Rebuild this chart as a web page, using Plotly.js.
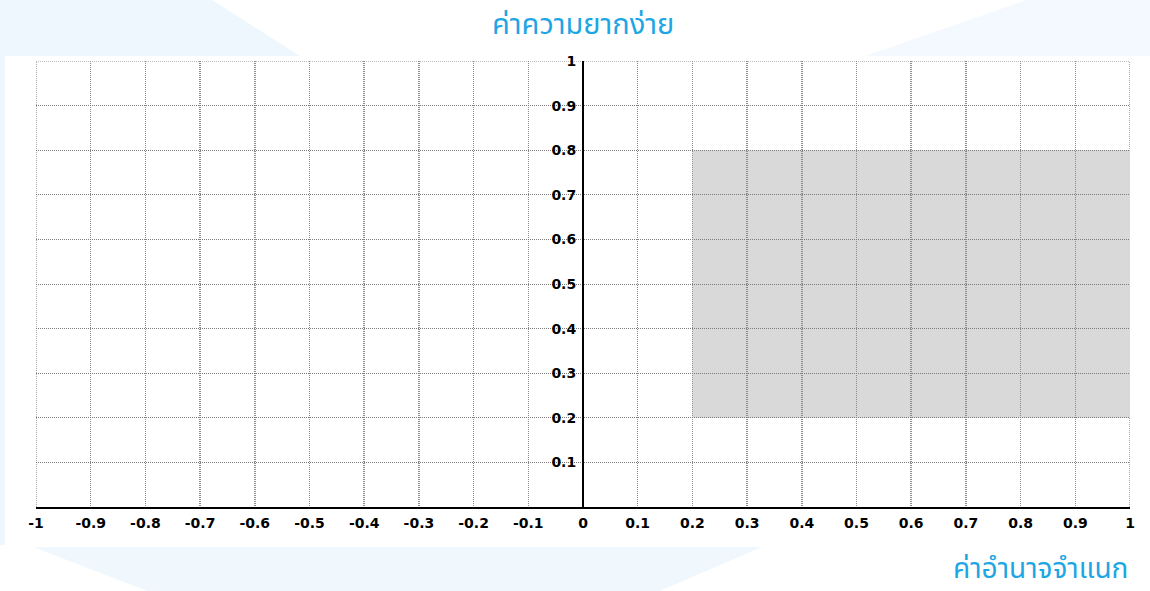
<!DOCTYPE html>
<html>
<head>
<meta charset="utf-8">
<script src="https://cdn.plot.ly/plotly-3.0.1.min.js"></script>
<style>html,body{margin:0;padding:0;background:#fff;}#chart{width:1150px;height:591px;}</style>
</head>
<body>
<div id="chart"></div>
<script>
// Axis ticks
const xTicks = [-1,-0.9,-0.8,-0.7,-0.6,-0.5,-0.4,-0.3,-0.2,-0.1,0,0.1,0.2,0.3,0.4,0.5,0.6,0.7,0.8,0.9,1];
const xTickLabels = ["-1","-0.9","-0.8","-0.7","-0.6","-0.5","-0.4","-0.3","-0.2","-0.1","0","0.1","0.2","0.3","0.4","0.5","0.6","0.7","0.8","0.9","1"];
const yTicks = [0.1,0.2,0.3,0.4,0.5,0.6,0.7,0.8,0.9,1];
const yTickLabels = ["0.1","0.2","0.3","0.4","0.5","0.6","0.7","0.8","0.9","1"];
// Shaded acceptable region (discrimination x, difficulty y)
const shadeX = [0.2, 1];
const shadeY = [0.2, 0.8];
const titleTop = "ค่าความยากง่าย";
const titleBottom = "ค่าอำนาจจำแนก";

const thaiFont = "'Noto Sans Thai', 'Noto Sans', sans-serif";
const tickFont = {family: "'DejaVu Sans', Verdana, sans-serif", size: 14, color: '#000', weight: 'bold'};
const gridV = {color: '#8c8c8c', width: 1.5, dash: '1px,1px'};
const gridH = {color: '#7a7a7a', width: 1, dash: '1px,1px'};

const layout = {
  width: 1150, height: 591,
  margin: {l: 36, r: 20, t: 61, b: 84},
  paper_bgcolor: '#ffffff',
  plot_bgcolor: 'rgba(0,0,0,0)',
  showlegend: false,
  xaxis: {
    range: [-1, 1], tickvals: xTicks, ticktext: xTickLabels,
    showgrid: true, gridcolor: gridV.color, griddash: gridV.dash, gridwidth: gridV.width,
    zeroline: false, showline: true, linecolor: '#000', linewidth: 2,
    ticks: '', tickfont: tickFont, ticklabelstandoff: 2, fixedrange: true
  },
  yaxis: {
    range: [0, 1], tickvals: yTicks, ticktext: yTickLabels,
    showgrid: true, gridcolor: gridH.color, griddash: gridH.dash, gridwidth: gridH.width,
    zeroline: false, showline: true, linecolor: '#000', linewidth: 2,
    anchor: 'free', position: 0.5, ticks: '', tickfont: tickFont,
    ticklabelstandoff: 3, fixedrange: true
  },
  shapes: [],
  annotations: [
    {text: titleTop, xref: 'paper', yref: 'paper', x: 0.5, y: 1, xshift: 0, yshift: 36,
     xanchor: 'center', yanchor: 'middle', showarrow: false,
     font: {family: thaiFont, size: 29, color: '#1ea6e4'}},
    {text: titleBottom, xref: 'paper', yref: 'paper', x: 1, y: 0, xshift: 0, yshift: -62,
     xanchor: 'right', yanchor: 'middle', showarrow: false,
     font: {family: thaiFont, size: 28, color: '#1ea6e4'}}
  ]
};

// Decorative light-blue background panels (page pixel positions -> paper fractions)
function pp(px, py) {
  const pw = 1150 - 36 - 20, ph = 591 - 61 - 84;
  return [((px - 36) / pw).toFixed(4), ((591 - 84 - py) / ph).toFixed(4)];
}
function pathFrom(pts) {
  return 'M ' + pts.map(p => pp(p[0], p[1]).join(' ')).join(' L ') + ' Z';
}
const bg = '#eef7fd';
layout.shapes.push({type: 'path', xref: 'paper', yref: 'paper', layer: 'below',
  path: pathFrom([[0,0],[212,0],[300,56],[5,56],[5,545],[0,545]]),
  fillcolor: bg, line: {width: 0}});
layout.shapes.push({type: 'path', xref: 'paper', yref: 'paper', layer: 'below',
  path: pathFrom([[865,56],[1027,0],[1150,0],[1150,56]]),
  fillcolor: '#f3f9fe', line: {width: 0}});
layout.shapes.push({type: 'path', xref: 'paper', yref: 'paper', layer: 'below',
  path: pathFrom([[33,547],[762,547],[660,591],[147,591]]),
  fillcolor: '#f0f8fd', line: {width: 0}});
// Shaded region
layout.shapes.push({type: 'rect', xref: 'x', yref: 'y', layer: 'below',
  x0: shadeX[0], x1: shadeX[1], y0: shadeY[0], y1: shadeY[1],
  fillcolor: '#d9d9d9', line: {width: 0}});
// Edge grid lines that Plotly omits at the range limits
[xTicks[0], xTicks[xTicks.length - 1]].forEach(v => layout.shapes.push({
  type: 'line', xref: 'x', yref: 'paper', x0: v, x1: v, y0: 0, y1: 1, layer: 'below',
  line: {color: gridV.color, width: gridV.width, dash: gridV.dash}}));
layout.shapes.push({type: 'line', xref: 'paper', yref: 'y', x0: 0, x1: 1,
  y0: yTicks[yTicks.length - 1], y1: yTicks[yTicks.length - 1], layer: 'below',
  line: {color: gridH.color, width: gridH.width, dash: gridH.dash}});

Plotly.newPlot('chart', [], layout, {displayModeBar: false, staticPlot: true});
</script>
</body>
</html>
